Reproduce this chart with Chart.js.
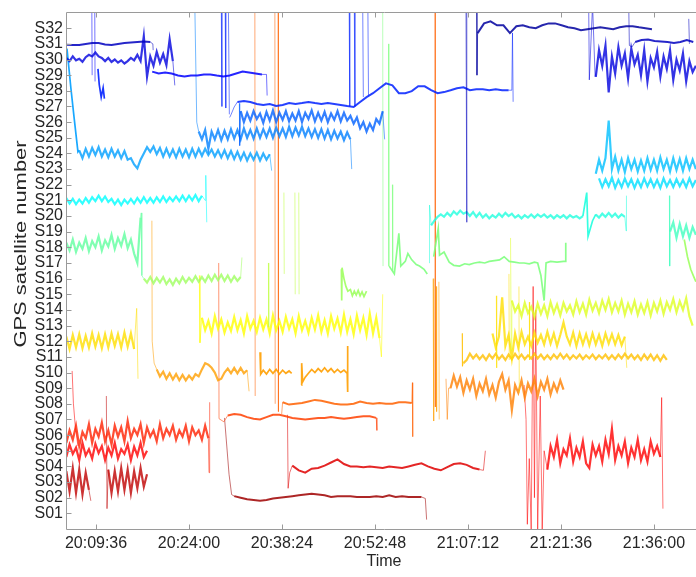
<!DOCTYPE html>
<html>
    <head>
        <title>GPS satellites</title>
        <style>
            html, body { margin: 0; padding: 0; overflow: hidden; background: #fff; }
        </style>
    </head>
    <body>
        <canvas id="sats" width="704" height="577"></canvas>
    </body>

    <script src="https://cdn.jsdelivr.net/npm/chart.js@4.4.0/dist/chart.umd.min.js"></script>

    <script>
        // time axis: minutes after 20:00:00
        const timeTicks = [9.6, 24, 38.4, 52.8, 67.2, 81.6, 96];
        const timeLabels = ['20:09:36', '20:24:00', '20:38:24', '20:52:48', '21:07:12', '21:21:36', '21:36:00'];
        const satLabels = ['S01', 'S02', 'S03', 'S04', 'S05', 'S06', 'S07', 'S08', 'S09', 'S10', 'S11', 'S12', 'S13', 'S14', 'S15', 'S16',
                           'S17', 'S18', 'S19', 'S20', 'S21', 'S22', 'S23', 'S24', 'S25', 'S26', 'S27', 'S28', 'S29', 'S30', 'S31', 'S32'];

        // each segment is [start, step, values] or a list of [time, value] points
        const S32 = [
            [[68.55, 33.5], [68.6, 29.0], [68.7, 31.69]],
            [68.7, 1, [31.69, 32.31, 32.44, 32.19, 32.19, 31.69, 32.13, 32.19, 32.06, 32.0, 32.19, 32.31, 32.31, 32.19, 32.06, 32.0, 31.87, 31.94, 32.0, 32.06, 32.0, 31.94, 32.06, 32.13, 32.13, 32.06, 32.0, 31.94]]
        ];
        const S31 = [
            [5.0, 1, [30.95, 30.93, 30.93, 31.0, 31.06, 31.06, 30.96, 30.93, 31.0, 31.06, 31.09, 31.12, 31.15, 31.12]],
            [[18.0, 31.12], [18.4, 31.0], [18.45, 30.6]],
            [[92.1, 33.5], [92.2, 30.9], [92.6, 30.8], [93.1, 31.12]],
            [93.1, 1, [31.12, 31.25, 31.28, 31.18, 31.15, 31.12, 31.06, 31.12, 31.25, 31.12]],
            [[66.9, 33.5], [67.0, 19.6], [67.05, 33.5]],
            [[101.4, 32.6], [101.5, 31.0]]
        ];
        const S30 = [
            [5.0, 0.5, [30.1, 29.9, 30.2, 29.95, 30.05, 29.85, 30.15, 30.3, 30.2, 30.45, 30.2, 30.1, 29.9, 30.1, 29.85, 30.0, 29.8, 29.95, 29.75, 29.9, 30.1, 29.95, 30.3, 29.9, 31.5, 28.9, 30.2, 29.6, 30.5, 29.8, 30.35, 29.65, 31.3, 29.9]],
            [[21.5, 29.9], [21.8, 28.35]],
            [[85.9, 33.5], [86.0, 28.7], [86.5, 33.5], [86.9, 28.9]],
            [87.0, 0.5, [28.9, 30.6, 29.6, 30.9, 27.9, 30.2, 29.1, 30.8, 29.6, 30.4, 28.8, 30.7, 29.7, 30.3, 29.0, 30.6, 28.6, 30.1, 29.5, 30.5, 28.9, 30.2, 29.4, 30.6, 28.7, 30.0, 29.3, 30.4, 28.6, 29.9, 29.2, 29.6]]
        ];
        const S29 = [
            [18.3, 1, [29.23, 29.11, 29.17, 29.11, 28.98, 28.92, 28.98, 28.98, 29.05, 29.05, 28.98, 28.92, 28.98, 29.11, 29.23, 29.17, 29.11, 29.05]],
            [[35.3, 29.05], [36.0, 29.05], [36.1, 27.7]],
            [[8.95, 33.5], [9.0, 29.0]],
            [[9.4, 33.5], [9.45, 28.6]]
        ];
        const S28 = [
            [[30.3, 26.3], [30.5, 26.47], [31.0, 26.97], [31.5, 27.29]],
            [31.5, 1, [27.29, 27.35, 27.29, 27.16, 27.10, 27.16, 27.03, 27.10, 27.22, 27.16, 27.22, 27.29, 27.22, 27.16, 27.22, 27.16, 27.10, 27.03, 26.97, 27.29, 27.60, 27.85, 28.17, 28.48, 28.35, 27.85, 27.85, 27.98, 28.29, 28.29, 28.04, 27.85, 27.92, 28.04, 28.17, 28.23, 28.04, 28.10, 28.10, 28.04, 28.10, 28.04, 28.04]],
            [[73.5, 28.04], [74.0, 28.04], [74.1, 31.7], [74.2, 27.3]],
            [[29.0, 33.5], [29.1, 27.0]],
            [[29.6, 33.5], [29.7, 26.9]],
            [[30.1, 33.5], [30.25, 26.5]],
            [[48.8, 33.5], [48.9, 27.0]],
            [[49.6, 33.5], [49.7, 27.0]],
            [[50.9, 33.5], [51.0, 27.6]],
            [[51.7, 33.5], [51.8, 27.7]],
            [[9.9, 29.4], [10.1, 28.4], [10.4, 27.6], [10.7, 28.2], [10.9, 27.5]]
        ];
        const S26 = [
            [[31.8, 27.2], [31.85, 24.5], [32.0, 26.7]],
            [32.0, 0.5, [26.7, 26.0, 26.6, 26.1, 26.7, 26.2, 26.55, 25.95, 26.65, 26.1, 26.75, 26.0, 26.6, 26.15, 26.7, 26.05, 26.55, 26.1, 26.7, 26.0, 26.6, 26.2, 26.75, 26.05, 26.6, 26.1, 26.65, 26.0, 26.55, 26.15, 26.7, 26.05, 26.6, 26.1, 26.4, 25.9, 26.3, 25.6, 26.0, 25.4, 25.9, 25.5, 26.2, 25.9, 26.7]],
            [[54.0, 26.7], [54.3, 24.9]]
        ];
        const S25 = [
            [[24.9, 33.5], [25.2, 26.0], [25.5, 25.4]],
            [25.5, 0.5, [25.4, 24.9, 25.5, 24.3, 25.4, 24.9, 25.5, 24.85, 25.45, 24.9, 25.55, 24.95, 25.5, 24.9, 25.6, 25.0, 25.5, 24.95, 25.6, 25.0, 25.55, 25.05, 25.6, 25.0, 25.65, 25.1, 25.6, 25.05, 25.7, 25.1, 25.65, 25.15, 25.7, 25.1, 25.6, 25.05, 25.55, 25.0, 25.55, 24.95, 25.5, 24.9, 25.45, 24.95, 25.4, 24.85, 25.35, 24.9]],
            [[49.0, 24.9], [49.2, 23.0]]
        ];
        const S24 = [
            [[5.1, 30.7], [5.7, 28.2], [6.2, 26.3], [6.8, 24.1], [7.0, 24.2]],
            [7.0, 0.5, [24.2, 23.7, 24.3, 23.8, 24.35, 23.9, 24.4, 23.8, 24.25, 23.75, 24.3, 23.8, 24.2, 23.7, 24.15, 23.6, 23.7, 23.3, 23.05, 23.6, 24.0, 24.4, 24.1, 24.45, 23.95, 24.35, 23.8, 24.3, 23.8, 24.25, 23.75, 24.3, 23.8, 24.25, 23.75, 24.3, 23.8, 24.3, 23.85, 24.3, 23.9, 24.25, 23.8, 24.2, 23.75, 24.2, 23.7, 24.15, 23.65, 24.1, 23.6, 24.05, 23.55, 24.0, 23.6, 24.05, 23.55, 24.0, 23.6, 23.95]],
            [[36.5, 23.95], [36.8, 22.9]]
        ];
        const S23 = [
            [87.0, 0.5, [22.7, 23.6, 22.9, 23.7, 26.1, 23.0, 23.8, 22.9, 23.6, 22.8, 23.7, 23.0, 23.6, 22.85, 23.55, 22.9, 23.7, 22.95, 23.6, 22.9, 23.75, 23.0, 23.6, 22.85, 23.7, 22.95, 23.65, 22.9, 23.7, 23.0, 23.6, 23.0]]
        ];
        const S22 = [
            [87.5, 0.5, [22.4, 21.85, 22.35, 21.9, 22.45, 21.8, 22.3, 21.85, 22.4, 21.9, 22.35, 21.8, 22.3, 21.85, 22.4, 21.9, 22.35, 21.85, 22.3, 21.8, 22.4, 21.9, 22.3, 21.85, 22.35, 21.9, 22.3, 21.85, 22.4, 21.9, 22.3]]
        ];
        const S21 = [
            [5.0, 0.5, [21.15, 20.8, 21.1, 20.75, 21.05, 20.8, 21.15, 20.85, 21.2, 20.95, 21.3, 20.95, 21.25, 20.9, 21.1, 20.75, 21.05, 20.7, 21.05, 20.8, 21.1, 20.8, 21.15, 20.85, 21.2, 20.85, 21.15, 20.85, 21.2, 20.9, 21.25, 20.9, 21.2, 20.95, 21.25, 20.95, 21.3, 20.95, 21.3, 21.0, 21.35, 20.95, 21.3]],
            [[26.0, 21.3], [26.5, 21.0], [26.6, 22.6], [26.75, 19.6]]
        ];
        const S20 = [
            [[61.2, 17.0], [61.25, 20.7], [61.5, 19.4]],
            [61.5, 0.5, [19.4, 19.7, 19.95, 20.1, 19.95, 20.2, 20.0, 20.3, 20.1, 20.35, 20.15, 20.25, 20.0, 20.25, 19.95, 20.2, 19.9, 20.1, 19.85, 20.05, 19.9, 20.15, 19.95, 20.2, 20.0, 20.15, 19.9, 20.05, 19.85, 20.05, 19.9, 20.1, 19.9, 20.1, 19.95, 20.1, 19.9, 20.05, 19.85, 20.05, 19.9, 20.05, 19.85, 20.05, 19.9, 20.0, 19.85, 20.0]],
            [[85.0, 20.0], [85.6, 21.5], [85.8, 18.7], [86.5, 19.7], [87.0, 20.1]],
            [87.0, 0.5, [20.1, 19.9, 20.15, 19.95, 20.2, 19.95, 20.15, 19.9, 20.1, 19.95]],
            [[91.5, 19.95], [91.7, 19.05], [91.75, 21.3]]
        ];
        const S19 = [
            [[98.4, 21.3], [98.45, 16.8], [98.5, 19.0]],
            [98.5, 0.5, [19.0, 19.6, 18.6, 19.5, 18.7, 19.4, 18.6, 19.3, 18.8]]
        ];
        const S18 = [
            [5.0, 0.5, [18.3, 17.8, 18.5, 17.7, 18.3, 17.9, 18.6, 17.75, 18.4, 18.0, 18.7, 17.8, 18.45, 18.05, 18.8, 17.9, 18.6, 18.1, 18.85, 17.95, 18.5, 17.6, 17.0, 19.9]],
            [[16.5, 19.9], [16.6, 20.2], [16.7, 16.2], [17.0, 16.0]]
        ];
        const S17 = [
            [[54.0, 33.5], [54.05, 16.8]],
            [[54.9, 31.0], [54.95, 16.8]],
            [[55.5, 22.0], [55.55, 16.5]],
            [[55.0, 16.8], [55.8, 16.3], [56.5, 18.9], [56.8, 16.8], [57.5, 17.1], [57.9, 17.6], [58.5, 17.2], [59.2, 16.9], [59.7, 16.8], [60.4, 16.6], [60.9, 16.3]],
            [[61.9, 17.4], [62.6, 19.2], [62.8, 17.5], [63.5, 17.7], [64.3, 17.05], [65.0, 16.85], [65.9, 16.8], [66.7, 16.95], [67.4, 16.9], [68.2, 17.0], [69.0, 17.05], [69.8, 17.0], [70.5, 17.1], [71.3, 17.15], [72.1, 17.2], [72.8, 17.4], [73.6, 17.1], [74.4, 17.05], [75.2, 17.0], [75.9, 17.0], [76.7, 16.95], [77.5, 17.05], [78.0, 17.0], [78.5, 16.2], [79.0, 14.6], [79.3, 17.0], [80.0, 17.1], [81.0, 17.05], [82.0, 17.1], [82.3, 17.1], [82.35, 18.3]]
        ];
        const S16 = [
            [17.0, 0.5, [16.0, 15.75, 16.1, 15.7, 16.05, 15.75, 16.1, 15.65, 15.95, 15.6, 16.0, 15.7, 16.1, 15.75, 16.05, 15.8, 16.15, 15.8, 16.1, 15.8, 16.2, 15.85, 16.25, 15.9, 16.25, 15.85, 16.2, 15.8, 16.15, 15.85, 16.1]],
            [[32.0, 16.1], [32.2, 17.35]],
            [[47.6, 16.6], [47.65, 14.6], [47.7, 16.7], [48.0, 16.0], [48.3, 15.5], [48.6, 15.2], [49.0, 15.3], [49.3, 14.9], [49.6, 15.2], [49.9, 14.95], [50.2, 15.25], [50.5, 14.9], [50.8, 15.15], [51.1, 14.85], [51.5, 15.2]],
            [[100.7, 18.5], [101.2, 17.4], [101.7, 16.6], [102.2, 16.1], [102.5, 15.8]]
        ];
        const S15 = [
            [[36.3, 17.0], [36.35, 12.9]],
            [[38.7, 21.5], [38.75, 16.3]],
            [[40.4, 21.5], [40.45, 15.0]],
            [[41.0, 21.5], [41.05, 15.0]]
        ];
        const S14 = [
            [[73.8, 18.6], [73.9, 11.4], [74.0, 14.6]],
            [74.0, 0.5, [14.6, 13.9, 14.3, 13.6, 14.45, 13.8, 14.2, 13.55, 14.4, 13.75, 14.3, 13.6, 14.5, 13.8, 14.35, 13.65, 14.45, 13.9, 14.3, 13.7, 14.55, 13.85, 14.4, 13.7, 14.65, 13.95, 14.45, 13.8, 14.6, 14.0, 14.7, 13.85, 14.45, 13.9, 14.6, 13.7, 14.4, 13.85, 14.55, 13.7, 14.35, 13.8, 14.5, 13.65, 14.45, 13.9, 14.6, 13.75, 14.5, 14.0, 14.7, 13.85, 14.55, 14.0, 14.75, 13.6, 13.0]]
        ];
        const S13 = [
            [[25.6, 16.2], [25.7, 11.9], [26.0, 13.5]],
            [26.0, 0.5, [13.5, 12.7, 13.3, 12.5, 13.6, 12.8, 13.4, 12.55, 13.2, 12.65, 13.55, 12.7, 13.35, 12.5, 13.6, 12.8, 13.3, 12.6, 13.5, 12.75, 13.4, 12.5, 13.65, 12.7, 13.3, 12.6, 13.55, 12.8, 13.4, 12.5, 13.6, 12.7, 13.3, 12.55, 13.5, 12.75, 13.65, 12.6, 13.35, 12.5, 13.6, 12.8, 13.45, 12.55, 13.7, 12.6, 13.4, 12.45, 13.65, 12.7, 13.5, 12.4, 13.75, 12.5, 13.5, 12.2]],
            [[53.5, 12.2], [53.8, 11.0], [54.0, 15.0]]
        ];
        const S12 = [
            [5.0, 0.5, [12.3, 11.5, 12.4, 11.6, 12.45, 11.55, 12.35, 11.6, 12.5, 11.65, 12.4, 11.55, 12.45, 11.6, 12.5, 11.7, 12.45, 11.6, 12.55, 11.65, 12.5, 11.5]],
            [[15.5, 11.5], [15.9, 14.1], [16.1, 9.6]],
            [71.0, 0.5, [12.5, 11.6, 12.3, 14.8, 11.7, 12.4, 10.9, 12.5, 11.6, 12.6, 11.8, 12.3, 11.7, 12.55, 11.9, 12.4, 11.8, 12.6, 11.85, 12.5, 11.7, 12.4, 13.2, 12.3, 11.8, 12.55, 11.7, 12.5, 11.8, 12.45, 11.75, 12.5, 11.8, 12.4, 11.7, 12.5, 11.85, 12.45, 11.8, 12.4, 11.75, 12.3]],
            [[91.5, 12.3], [91.8, 10.3]],
            [[71.6, 14.9], [71.65, 10.3]],
            [[73.55, 16.3], [73.6, 10.8]],
            [[75.1, 15.5], [75.15, 8.7]],
            [[76.7, 14.5], [76.75, 10.8]]
        ];
        const S11 = [
            [[66.3, 12.5], [66.35, 10.4], [66.5, 10.6]],
            [66.5, 0.5, [10.6, 10.8, 11.2, 10.9, 11.15, 10.85, 11.1, 10.8, 11.15, 10.9, 11.2, 10.85, 11.1, 10.8, 11.15, 10.85, 11.2, 10.9, 11.15, 10.85, 11.1, 10.9, 11.2, 10.9, 11.15, 10.85, 11.1, 10.85, 11.15, 10.9, 11.2, 10.9, 11.15, 10.85, 11.1, 10.9, 11.15, 10.85, 11.1, 10.9, 11.15, 10.85, 11.1, 10.9, 11.15, 10.85, 11.1, 10.85, 11.15, 10.9, 11.2, 10.9, 11.15, 10.85, 11.1, 10.8, 11.15, 10.85, 11.15, 10.8, 11.1, 10.75, 11.1, 10.8]]
        ];
        const S10 = [
            [[18.25, 19.7], [18.3, 12.0], [18.6, 10.6], [19.0, 10.2]],
            [19.0, 0.5, [10.2, 9.75, 10.05, 9.6, 9.95, 9.55, 9.9, 9.5, 9.85, 9.5, 9.8, 9.55, 9.9, 9.75, 10.2, 10.6, 10.5, 10.3, 10.0, 9.5, 9.6, 10.0, 10.25, 9.95, 10.3, 9.95, 10.3, 9.95, 10.15]],
            [[33.0, 10.15], [33.3, 8.8]],
            [[35.0, 11.3], [35.1, 9.9], [35.5, 10.15], [36.0, 9.9], [36.5, 10.2], [37.0, 9.95], [37.5, 10.2], [38.0, 9.9], [38.5, 10.15], [39.0, 9.95], [39.5, 10.1], [39.9, 9.95]],
            [[41.4, 9.2], [41.45, 10.6], [41.6, 9.4], [42.0, 9.7], [42.5, 9.95], [43.0, 10.2], [43.5, 10.0], [44.0, 10.25], [44.5, 10.05], [45.0, 10.3], [45.5, 10.05], [46.0, 10.25], [46.5, 10.0], [47.0, 10.2], [47.5, 10.0], [48.0, 10.15], [48.5, 9.95], [48.55, 11.7], [48.6, 8.75]],
            [[61.8, 16.0], [61.9, 6.9]],
            [[62.3, 15.5], [62.35, 7.5]],
            [[62.7, 15.8], [62.75, 7.0]]
        ];
        const S09 = [
            [[63.8, 9.6], [64.0, 7.0], [64.2, 9.0], [64.5, 9.0]],
            [64.5, 0.5, [9.0, 9.8, 9.1, 9.7, 8.7, 9.5, 8.9, 9.6, 8.5, 9.3, 8.8, 9.6, 8.6, 9.2, 8.4, 9.4, 9.9, 8.9, 9.5, 7.6, 9.2, 8.7, 9.5, 8.4, 9.3, 8.8, 9.6, 8.5, 9.4, 8.9, 9.6, 8.6, 9.3, 8.8, 9.5, 8.9]]
        ];
        const S08 = [
            [[38.35, 7.35], [38.5, 8.1]],
            [38.5, 1, [8.1, 7.95, 8.0, 8.05, 8.15, 8.25, 8.2, 8.1, 8.0, 7.95, 7.95, 8.0, 8.15, 8.05, 8.0, 8.05, 8.0, 8.0, 8.1, 8.1, 8.05]],
            [[58.5, 8.05], [58.6, 9.35], [58.65, 5.9]],
            [[34.2, 33.5], [34.25, 8.5]],
            [[37.3, 33.5], [37.35, 8.0]],
            [[37.8, 33.5], [37.85, 7.5]],
            [[62.1, 33.5], [62.15, 7.8]]
        ];
        const S07 = [
            [[28.6, 17.0], [28.65, 7.05], [29.4, 6.85], [30.0, 7.25]],
            [30.0, 1, [7.25, 7.35, 7.3, 7.15, 7.05, 7.0, 7.15, 7.3, 7.3, 7.2, 7.1, 7.05, 7.0, 7.05, 7.1, 7.1, 7.15, 7.1, 7.05, 7.1, 7.15, 7.2, 7.2, 7.1]],
            [[53.0, 7.1], [53.1, 6.3]]
        ];
        const S06 = [
            [5.0, 0.5, [5.5, 6.3, 5.7, 6.6, 5.3, 6.2, 5.8, 6.7, 5.5, 6.4, 5.9, 6.8, 5.6, 6.3, 5.4, 6.6, 5.9, 6.5, 5.6, 6.9, 5.8, 6.4, 6.0, 6.7, 5.5, 6.5, 5.9, 6.3, 5.6, 6.7, 5.8, 6.4, 6.0, 6.6, 5.7, 6.3, 5.9, 6.6, 5.6, 6.5, 6.0, 6.3, 5.7, 6.6, 5.8]],
            [[27.0, 5.8], [27.1, 3.6], [27.2, 8.1]]
        ];
        const S05 = [
            [5.0, 0.5, [4.6, 5.4, 4.8, 5.2, 4.4, 5.5, 4.7, 5.1, 4.5, 5.45, 4.85, 5.3, 4.4, 5.2, 4.7, 5.5, 4.5, 5.1, 4.8, 5.4, 4.4, 5.25, 4.7, 5.5, 4.6, 5.0]],
            [[5.9, 10.1], [6.1, 8.0], [6.4, 6.5], [6.8, 5.3]],
            [[75.9, 9.2], [76.2, 7.0], [76.4, 0.3], [76.7, 4.5]],
            [[76.7, 4.5], [77.0, -0.2], [77.3, 15.5], [77.5, 2.0]],
            [[77.5, 2.0], [77.7, 14.0], [78.0, 0.0], [78.4, 8.5]],
            [[78.4, 8.5], [78.7, -0.2], [79.0, 5.0], [79.5, 3.8]],
            [79.5, 0.5, [3.8, 5.3, 4.6, 5.7, 4.2, 5.1, 4.7, 5.8, 4.3, 5.2, 4.6, 5.6, 4.2, 3.9, 5.4, 4.7, 5.3, 4.3, 5.7, 4.8, 6.4, 4.4, 5.3, 4.7, 5.6, 4.2, 5.2, 4.6, 5.7, 4.4, 5.1, 4.3, 5.6, 4.8, 5.3, 4.6]],
            [[97.0, 4.6], [97.2, 8.4], [97.4, 1.3]]
        ];
        const S04 = [
            [[39.25, 7.3], [39.35, 2.6], [39.6, 3.6], [40.0, 4.05]],
            [40.0, 1, [4.05, 3.75, 3.6, 3.85, 3.9, 4.05, 4.25, 4.45, 4.15, 4.0, 4.0, 3.95, 4.0, 3.95, 3.9, 4.0, 3.95, 3.9, 4.0, 4.1, 4.2, 4.0, 3.85, 3.75, 3.95, 4.15, 4.2, 4.1, 3.9, 3.8]],
            [[69.0, 3.8], [69.6, 3.75], [69.9, 5.0]]
        ];
        const S03 = [
            [5.0, 0.5, [3.7, 2.4, 3.9, 2.3, 3.8, 2.2, 3.6, 2.5]],
            [[8.5, 2.5], [8.8, 1.8]],
            [[11.2, 8.5], [11.3, 1.3], [11.5, 3.8]],
            [11.5, 0.5, [3.8, 2.3, 3.7, 2.4, 3.9, 2.5, 3.8, 2.3, 3.7, 2.6, 3.9, 2.7, 3.5]]
        ];
        const S02 = [
            [[29.5, 7.1], [30.2, 3.5], [30.6, 2.2], [31.0, 2.1]],
            [31.0, 1, [2.1, 2.0, 1.9, 1.85, 1.8, 1.85, 1.95, 2.0, 2.05, 2.1, 2.15, 2.2, 2.25, 2.2, 2.15, 2.05, 2.1, 2.1, 2.1, 2.05, 2.05, 2.05, 2.1, 2.05, 2.15, 2.05, 2.1, 2.05, 2.05, 2.05]],
            [[60.0, 2.05], [60.6, 1.95], [60.8, 0.6]]
        ];

        const traces = [
            [32, S32], [31, S31], [30, S30], [29, S29], [28, S28], [26, S26], [25, S25], [24, S24],
            [23, S23], [22, S22], [21, S21], [20, S20], [19, S19], [18, S18], [17, S17], [16, S16],
            [15, S15], [14, S14], [13, S13], [12, S12], [11, S11], [10, S10], [9, S09], [8, S08],
            [7, S07], [6, S06], [5, S05], [4, S04], [3, S03], [2, S02]
        ];

        // MATLAB jet(32): row 1 for S32 (dark blue) .. row 32 for S01 (dark red)
        function jet(k) {
            const j = 33 - k;
            const u = (i) => (i < 1 || i > 23) ? 0 : (i <= 8 ? i / 8 : (i <= 15 ? 1 : (24 - i) / 8));
            const g = u(j - 4), r = u(j - 12), b = u(j + 4);
            return [Math.round(255 * r), Math.round(255 * g), Math.round(255 * b)];
        }

        const datasets = [];
        traces.forEach(([k, segs]) => {
            const [r, g, b] = jet(k);
            segs.forEach((seg) => {
                let pts, width, alpha;
                if (Array.isArray(seg[0])) {
                    pts = seg.map(([x, y]) => ({x: x, y: y}));
                    const spike = seg.length <= 4;
                    width = spike ? 1 : 1.7;
                    alpha = spike ? 0.55 : 0.9;
                } else {
                    const [t0, dt, vals] = seg;
                    pts = vals.map((y, i) => ({x: t0 + i * dt, y: y}));
                    width = dt < 1 ? 2.2 : 2.0;
                    alpha = dt < 1 ? 0.8 : 0.85;
                }
                datasets.push({
                    data: pts,
                    borderColor: 'rgba(' + r + ',' + g + ',' + b + ',' + alpha + ')',
                    borderWidth: width,
                    pointRadius: 0,
                    tension: 0,
                    fill: false
                });
            });
        });

        const axisColor = '#9a9a9a';
        const textColor = '#262626';
        const font = {family: '"Liberation Sans", Arial, sans-serif', size: 16};

        // box, inward ticks and the stretched y label, MATLAB style
        const frame = {
            id: 'frame',
            afterDraw(chart) {
                const {ctx, chartArea: a, scales: {x, y}} = chart;
                ctx.save();
                ctx.strokeStyle = axisColor;
                ctx.lineWidth = 1;
                ctx.beginPath();
                const L = Math.floor(a.left) + 0.5, R = Math.floor(a.right) + 0.5;
                const T = Math.floor(a.top) + 0.5, B = Math.floor(a.bottom) + 0.5;
                ctx.moveTo(L, T); ctx.lineTo(R, T); ctx.lineTo(R, B); ctx.lineTo(L, B); ctx.closePath();
                for (let v = 1; v <= 32; v++) {
                    const py = Math.round(y.getPixelForValue(v)) + 0.5;
                    ctx.moveTo(L, py); ctx.lineTo(L + 5, py);
                    ctx.moveTo(R, py); ctx.lineTo(R - 5, py);
                }
                timeTicks.forEach((t) => {
                    const px = Math.round(x.getPixelForValue(t)) + 0.5;
                    ctx.moveTo(px, B); ctx.lineTo(px, B - 5);
                    ctx.moveTo(px, T); ctx.lineTo(px, T + 5);
                });
                ctx.stroke();

                ctx.translate(25.5, 244);
                ctx.rotate(-Math.PI / 2);
                ctx.scale(1.37, 1);
                ctx.fillStyle = textColor;
                ctx.font = '16px "Liberation Sans", Arial, sans-serif';
                ctx.textAlign = 'center';
                ctx.textBaseline = 'alphabetic';
                ctx.fillText('GPS satellite number', 0, 0);
                ctx.restore();
            }
        };

        new Chart(document.getElementById('sats').getContext('2d'), {
            type: 'line',
            data: {datasets: datasets},
            options: {
                responsive: false,
                animation: false,
                events: [],
                layout: {padding: {top: 4, right: 2, left: 0, bottom: 0}},
                plugins: {legend: {display: false}, tooltip: {enabled: false}},
                scales: {
                    x: {
                        type: 'linear',
                        min: 4.95,
                        max: 103.45,
                        afterBuildTicks: (s) => { s.ticks = timeTicks.map((v) => ({value: v})); },
                        afterFit: (s) => { s.height = 48; },
                        grid: {display: false, drawTicks: false},
                        border: {display: false},
                        ticks: {
                            padding: 5, color: textColor, font: font, maxRotation: 0, autoSkip: false,
                            callback: (v, i) => timeLabels[i]
                        },
                        title: {display: true, text: 'Time', color: textColor, font: font, padding: {top: 0, bottom: 6}}
                    },
                    y: {
                        type: 'linear',
                        min: 0,
                        max: 33,
                        afterBuildTicks: (s) => { s.ticks = satLabels.map((_, i) => ({value: i + 1})); },
                        afterFit: (s) => { s.width = 66; },
                        grid: {display: false, drawTicks: false},
                        border: {display: false},
                        ticks: {
                            padding: 3, color: textColor, font: font, autoSkip: false,
                            callback: (v, i) => satLabels[i]
                        }
                    }
                }
            },
            plugins: [frame]
        });
    </script>
</html>
